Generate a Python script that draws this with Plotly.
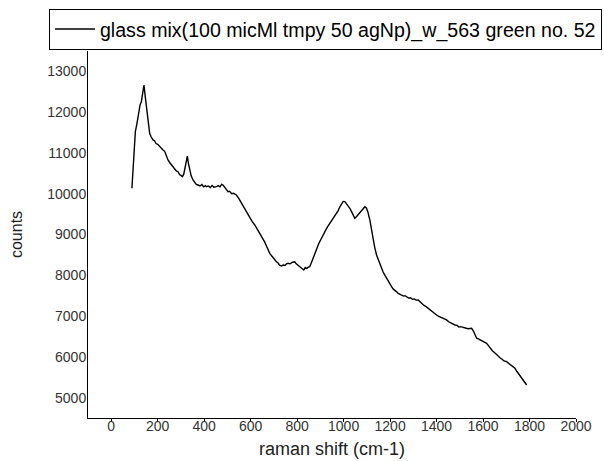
import plotly.graph_objects as go

raman_shift = [89, 96.5, 103.8, 110, 118, 124, 129.6, 135, 140.8, 147, 153.7, 160, 165.4, 172, 179.6,
               186, 193, 200, 208.4, 215, 222.7, 230, 237, 244.2, 252, 258, 265.7, 272, 280, 287.3,
               294, 300, 306.2, 312, 317.4, 322, 327.7, 332, 337.6, 344, 351.9, 358, 366, 373.4,
               382, 390, 398, 405, 409.6, 418, 426, 434, 442, 452.6, 460, 468, 475, 481, 490, 496,
               502.6, 510, 518, 526, 532, 538.8, 548, 556, 566, 574, 581.8, 590, 598, 606, 617.6,
               626, 634, 642, 653.3, 660, 668, 675, 682.2, 690, 698, 704, 711, 718, 724, 732.6,
               740, 748, 754, 761, 770, 780, 789.8, 796, 804, 811.4, 818, 822, 828.6, 835, 842,
               848, 854.4, 862, 869, 876, 886, 894, 904.8, 915, 924, 932, 940.6, 950, 958, 969.4,
               976, 984, 991, 998, 1005.2, 1012, 1019, 1026.7, 1034, 1040, 1048.3, 1056, 1062,
               1069.8, 1076, 1084, 1091.3, 1098, 1104, 1112.8, 1120, 1127, 1134, 1141.7, 1150,
               1156, 1163.2, 1170, 1178, 1184.8, 1192, 1199, 1206.3, 1214, 1220, 1227, 1234.7,
               1242, 1250, 1258, 1264, 1270.9, 1280, 1288, 1296, 1304, 1312, 1320.8, 1330, 1338,
               1346, 1355, 1363.9, 1372, 1380, 1388, 1394, 1400, 1410, 1418, 1426, 1434, 1443.1,
               1452, 1460, 1468, 1478.9, 1488, 1496, 1504, 1512, 1520, 1528, 1536, 1544, 1550.8,
               1558, 1565, 1572.3, 1580, 1588, 1596, 1605, 1615.4, 1624, 1632, 1640, 1650, 1658.5,
               1666, 1674, 1682, 1690, 1701.5, 1710, 1718, 1726, 1737.3, 1746, 1756, 1766, 1776,
               1787.7]
counts = [10133, 10827, 11521, 11700, 12012, 12180, 12257, 12480, 12666, 12350, 11972, 11650, 11482, 11390, 11318,
          11300, 11230, 11210, 11153, 11120, 11072, 11040, 10930, 10827, 10760, 10720, 10663, 10600, 10560, 10540,
          10470, 10450, 10418, 10480, 10663, 10800, 10925, 10750, 10582, 10440, 10337, 10280, 10230, 10214,
          10190, 10225, 10170, 10200, 10172, 10190, 10150, 10200, 10160, 10172, 10200, 10170, 10230, 10214, 10130, 10100,
          10050, 10060, 10000, 10010, 9990, 9969, 9890, 9810, 9720, 9650, 9559, 9480, 9400, 9320, 9233,
          9150, 9080, 9010, 8907, 8820, 8720, 8620, 8539, 8480, 8420, 8360, 8333, 8300, 8250, 8228,
          8250, 8240, 8280, 8294, 8280, 8320, 8333, 8280, 8240, 8211, 8180, 8140, 8130, 8190, 8170,
          8200, 8211, 8320, 8430, 8539, 8680, 8790, 8907, 9040, 9120, 9200, 9275, 9350, 9420, 9520,
          9580, 9680, 9765, 9810, 9805, 9760, 9700, 9643, 9560, 9480, 9397, 9440, 9480,
          9520, 9580, 9640, 9682, 9650, 9560, 9356, 9100, 8865, 8680, 8498, 8360,
          8260, 8171, 8080, 8000, 7926, 7850, 7790, 7720, 7660, 7620, 7600, 7558,
          7530, 7520, 7490, 7500, 7475, 7440, 7450, 7410, 7420, 7390, 7394, 7340, 7300,
          7260, 7230, 7190, 7150, 7100, 7080, 7040, 7026, 6990, 6970, 6940, 6920, 6904,
          6860, 6840, 6800, 6781, 6770, 6730, 6740, 6720, 6710, 6700, 6690, 6700, 6700,
          6640, 6560, 6455, 6440, 6420, 6390, 6360, 6332, 6270, 6200, 6150, 6100, 6045,
          6010, 5970, 5940, 5900, 5881, 5840, 5810, 5760, 5719, 5640, 5560, 5480, 5400,
          5310]

x_ticks = [0, 200, 400, 600, 800, 1000, 1200, 1400, 1600, 1800, 2000]
y_ticks = [5000, 6000, 7000, 8000, 9000, 10000, 11000, 12000, 13000]
series_name = "glass mix(100 micMl tmpy 50 agNp)_w_563 green no. 52"

fig = go.Figure()
fig.add_trace(go.Scatter(x=raman_shift, y=counts, mode="lines", name=series_name,
                         line=dict(color="black", width=1.4)))

font = "Liberation Sans, Arial, sans-serif"
fig.update_layout(
    width=604, height=461,
    margin=dict(l=88, r=28, t=51, b=43, autoexpand=False),
    paper_bgcolor="white", plot_bgcolor="white",
    font=dict(family=font, color="#222"),
    showlegend=True,
    legend=dict(x=-0.08, y=1.115, xanchor="left", yanchor="top",
                bordercolor="black", borderwidth=1, bgcolor="white",
                font=dict(size=19.6, color="black"), itemwidth=40,
                tracegroupgap=0),
    xaxis=dict(range=[-100, 2000], tickvals=x_ticks, ticktext=[str(v) for v in x_ticks],
               showgrid=False, zeroline=False,
               showline=True, linecolor="black", linewidth=1,
               ticks="outside", ticklen=3, tickcolor="black",
               ticklabelstandoff=-8,
               tickfont=dict(size=14, color="#333"),
               title=dict(text="raman shift (cm-1)", font=dict(size=18, color="#222"), standoff=9)),
    yaxis=dict(range=[4500, 13500], tickvals=y_ticks, ticktext=[str(v) for v in y_ticks],
               showgrid=False, zeroline=False,
               showline=True, linecolor="black", linewidth=1,
               ticks="", ticklabelstandoff=-2,
               tickfont=dict(size=14, color="#333"),
               title=dict(text="counts", font=dict(size=16, color="#222"), standoff=20)),
)
fig.write_html("out.html", config={"displayModeBar": False},
               post_script="document.body.style.margin='0';document.body.style.overflow='hidden';")
